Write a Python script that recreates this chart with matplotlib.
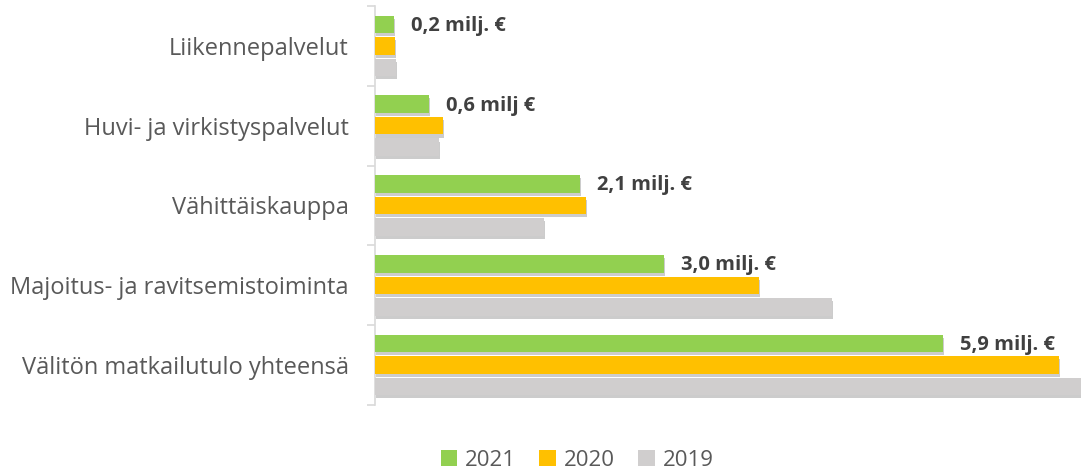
import numpy as np
import matplotlib
matplotlib.use('Agg')
import matplotlib.pyplot as plt
import matplotlib.patheffects as pe
from matplotlib.patches import Patch

# data (milj. €)
categories = ['Liikennepalvelut', 'Huvi- ja virkistyspalvelut', 'Vähittäiskauppa',
              'Majoitus- ja ravitsemistoiminta', 'Välitön matkailutulo yhteensä']
v2021 = [0.2, 0.56, 2.13, 3.0, 5.9]
v2020 = [0.21, 0.71, 2.19, 3.99, 7.1]
v2019 = [0.22, 0.66, 1.75, 4.74, 7.5]
labels_2021 = ['0,2 milj. €', '0,6 milj €', '2,1 milj. €', '3,0 milj. €', '5,9 milj. €']
series = ['2021', '2020', '2019']
colors = ['#92D050', '#FFC000', '#D0CECE']

plt.rcParams['font.family'] = ['Open Sans', 'DejaVu Sans']

fig = plt.figure(figsize=(10.81, 4.72), dpi=100)
ax = fig.add_axes([375 / 1081, 1 - 405 / 472, 1 - 375 / 1081, 399 / 472])

y = np.arange(len(categories))
h = 0.22
offs = [-0.27, 0.0, 0.27]
shadow = [pe.SimplePatchShadow(offset=(0.8, -2.2), shadow_rgbFace='#808080', alpha=0.4), pe.Normal()]
for vals, off, col, name in zip([v2021, v2020, v2019], offs, colors, series):
    b = ax.barh(y + off, vals, height=h, color=col, label=name, zorder=3)
    for r in b:
        r.set_path_effects(shadow)

# data labels on 2021 bars
for yi, v, t in zip(y, v2021, labels_2021):
    ax.annotate(t, (v, yi + offs[0]), xytext=(12, -1), textcoords='offset points',
                va='center', ha='left', fontsize=14.5, fontweight='bold', color='#404040')

ax.set_xlim(0, 7.33)
ax.set_ylim(len(categories) - 0.5, -0.5)
ax.set_yticks(y)
ax.set_yticklabels(categories, fontsize=17, color='#595959')
ax.tick_params(axis='y', which='major', length=0, pad=19)
ax.set_yticks(np.arange(len(categories) + 1) - 0.5, minor=True)
ax.tick_params(axis='y', which='minor', length=6, color='#D9D9D9', width=1.2)
ax.set_xticks([])
for s in ['top', 'right', 'bottom']:
    ax.spines[s].set_visible(False)
ax.spines['left'].set_color('#D9D9D9')
ax.spines['left'].set_linewidth(1.2)

handles = [Patch(facecolor=c, edgecolor='none') for c in colors]
fig.legend(handles=handles, labels=series, loc='center', bbox_to_anchor=(577 / 1081, 1 - 460 / 472),
           ncol=3, frameon=False, fontsize=16, handlelength=0.75, handleheight=0.75,
           handletextpad=0.35, columnspacing=1.05, labelcolor='#595959')

fig.savefig('out.png', dpi=100)
